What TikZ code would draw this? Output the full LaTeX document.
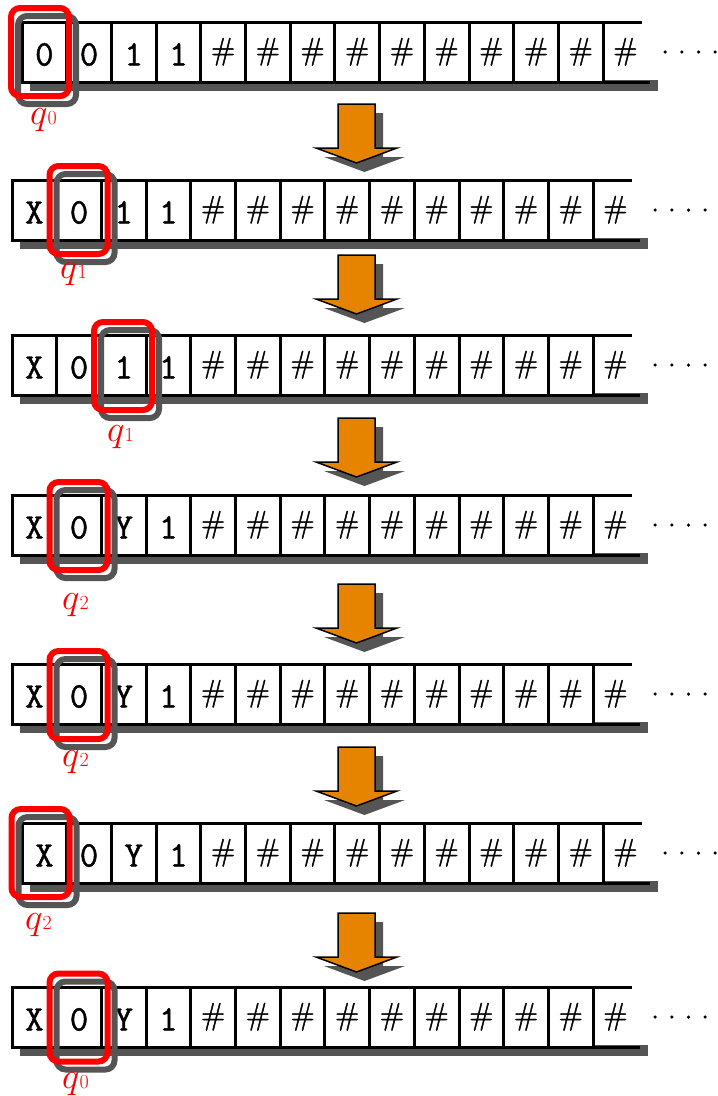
\RequirePackage{fix-cm}
\documentclass[tikz,border=0pt]{standalone}
\usetikzlibrary{calc}
\definecolor{shade}{RGB}{85,85,85}
\definecolor{arrorange}{RGB}{230,132,0}
\definecolor{headred}{RGB}{255,0,0}
\newcommand\heavy[1]{\special{pdf:literal direct 2 Tr 0.45 w}#1\special{pdf:literal direct 0 Tr}}
\tikzset{
  cell/.style={draw=black, line width=3pt, fill=white, minimum width=44.7pt,
    minimum height=60pt, inner sep=0pt, outer sep=0pt, text height=27pt,
    text depth=0pt, font=\fontsize{36}{36}\selectfont\ttfamily, anchor=north west},
  opencell/.style={cell, draw=none, fill=none},
  tapeline/.style={draw=black, line width=3pt},
  tapeshadow/.style={fill=shade},
  headbox/.style={draw=headred, line width=6pt, rounded corners=9pt,
    minimum width=58pt, minimum height=88pt, inner sep=0pt, outer sep=0pt},
  headshadow/.style={headbox, draw=shade},
  qlabel/.style={text=headred, anchor=base west, inner sep=0pt},
  blockarrow/.style={fill=arrorange, draw=black, line width=1.5pt, line join=miter},
  arrowshadow/.style={fill=shade},
  tapedot/.style={fill=black, circle, inner sep=0pt, minimum size=3.5pt},
}
\newcommand\hashsym{{\rmfamily\fontsize{31}{31}\selectfont\raisebox{6pt}{\heavy{\#}}}}
% #1 row name, #2 left, #3 top, #4..#7 first four symbols
\newcommand\drawtape[7]{%
  \fill[tapeshadow] (#2+8,#3+58) rectangle ({#2+13*44.7+55},#3+69);
  \node[cell] (#1c1) at (#2,#3) {\heavy{#4}};
  \node[cell] (#1c2) at (#2+44.7,#3) {\heavy{#5}};
  \node[cell] (#1c3) at (#2+89.4,#3) {\heavy{#6}};
  \node[cell] (#1c4) at (#2+134.1,#3) {\heavy{#7}};
  \foreach \i in {5,...,13} {\node[cell] (#1c\i) at ({#2+(\i-1)*44.7},#3) {\hashsym};}
  \node[opencell] (#1c14) at ({#2+13*44.7},#3) {\hashsym};
  \draw[tapeline] (#1c14.north west) -- ++(39,0);
  \draw[tapeline] (#1c14.south west) -- ++(47,0);
  \foreach \k in {0,...,3} {\node[tapedot] (#1d\k) at ({#2+13*44.7+62+\k*16.7},#3+30) {};}
}
% #1 row name, #2 head x, #3 head y, #4 label x, #5 label baseline, #6 state index
\newcommand\drawhead[6]{%
  \node[headshadow] (#1hs) at (#2+7,#3+8) {};
  \node[headbox] (#1h) at (#2,#3) {};
  \node[qlabel] (#1q) at (#4,#5) {\fontsize{37}{37}\selectfont$q$\fontsize{20}{20}\selectfont #6};
}
% #1 name, #2 tip y
\newcommand\drawblockarrow[2]{%
  \coordinate (#1) at (356.5,#2);
  \fill[arrowshadow] ($(#1)+(-18.5+8,-59+9)$) -- ++(37,0) -- ++(0,44) -- ++(22,0)
     -- ($(#1)+(8,9)$) -- ($(#1)+(-40.5+8,-15+9)$) -- ++(22,0) -- cycle;
  \draw[blockarrow] ($(#1)+(-18.5,-59)$) -- ++(37,0) -- ++(0,44) -- ++(22,0)
     -- (#1) -- ($(#1)+(-40.5,-15)$) -- ++(22,0) -- cycle;
}
\begin{document}
\begin{tikzpicture}[x=1pt,y=-1pt]
\useasboundingbox (0,0) rectangle (718,1096);
\fill[white] (0,0) rectangle (718,1096);
\drawtape{ra}{22}{22}{0}{0}{1}{1}
\drawhead{ra}{40}{52}{30}{124}{0}
\drawtape{rb}{12}{180}{X}{0}{1}{1}
\drawhead{rb}{78.5}{210}{60}{278}{1}
\drawtape{rc}{12}{335}{X}{0}{1}{1}
\drawhead{rc}{123}{366}{107}{441}{1}
\drawtape{rd}{12}{495}{X}{0}{Y}{1}
\drawhead{rd}{78.5}{526}{62}{609}{2}
\drawtape{re}{12}{664}{X}{0}{Y}{1}
\drawhead{re}{78.5}{695}{62}{766}{2}
\drawtape{rf}{22}{823}{X}{0}{Y}{1}
\drawhead{rf}{40.5}{853}{25}{929}{2}
\drawtape{rg}{12}{987}{X}{0}{Y}{1}
\drawhead{rg}{78.5}{1017.5}{62}{1088}{0}
\drawblockarrow{aone}{163}
\drawblockarrow{atwo}{314}
\drawblockarrow{athree}{477}
\drawblockarrow{afour}{643}
\drawblockarrow{afive}{806}
\drawblockarrow{asix}{972}
\end{tikzpicture}
\end{document}
